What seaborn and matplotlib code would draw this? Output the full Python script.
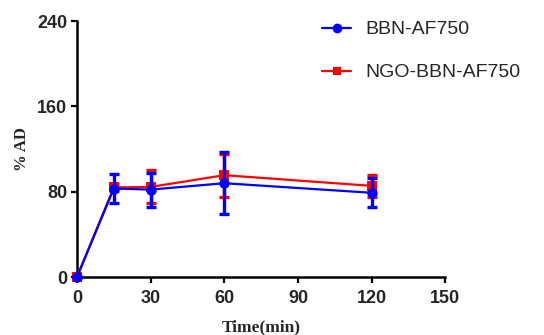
import matplotlib
matplotlib.use("Agg")
import matplotlib.pyplot as plt
import seaborn as sns
import pandas as pd
from matplotlib.lines import Line2D

time_min = [0, 15, 30, 60, 120]
bbn_mean = [0, 83, 82, 88, 79]
bbn_err = [0, 13.5, 16, 29, 13.5]
ngo_mean = [0, 84, 84.5, 95.5, 85.5]
ngo_err = [0, 3, 15.5, 20, 10]
series_names = ["BBN-AF750", "NGO-BBN-AF750"]
yticks = [0, 80, 160, 240]
xticks = [0, 30, 60, 90, 120, 150]

sns.set_style("ticks")
plt.rcParams["font.family"] = ["Liberation Sans", "DejaVu Sans"]

fig = plt.figure(figsize=(5.44, 3.35), dpi=100)
ax = fig.add_axes([0.1415, 0.173, 0.677, 0.764])

df = pd.DataFrame({
    "time": time_min * 2,
    "value": ngo_mean + bbn_mean,
    "series": [series_names[1]] * 5 + [series_names[0]] * 5,
})

# red first, blue on top
ax.errorbar(time_min, ngo_mean, yerr=ngo_err, fmt="none", ecolor="#ff0000",
            elinewidth=2.4, capsize=3.3, capthick=2.4, zorder=2)
sns.lineplot(data=df[df.series == series_names[1]], x="time", y="value",
             color="#ff0000", marker="s", markersize=7, markeredgewidth=0,
             linewidth=1.6, ax=ax, legend=False, zorder=3)
ax.errorbar(time_min, bbn_mean, yerr=bbn_err, fmt="none", ecolor="#0000ff",
            elinewidth=2.4, capsize=3.3, capthick=2.4, zorder=4)
sns.lineplot(data=df[df.series == series_names[0]], x="time", y="value",
             color="#0000ff", marker="o", markersize=7.5, markeredgewidth=0,
             linewidth=1.6, ax=ax, legend=False, zorder=5)

ax.set_xlim(0, 150)
ax.set_ylim(0, 240)
ax.set_xticks(xticks)
ax.set_yticks(yticks)
ax.set_xticklabels([str(t) for t in xticks], fontsize=13, fontweight="bold")
ax.set_yticklabels([str(t) for t in yticks], fontsize=13, fontweight="bold")
ax.tick_params(axis="both", length=4.5, width=1.6, pad=2.5, color="black")
ax.tick_params(axis="x", pad=4.5)
for s in ["top", "right"]:
    ax.spines[s].set_visible(False)
for s in ["left", "bottom"]:
    ax.spines[s].set_linewidth(1.8)
    ax.spines[s].set_color("black")
for child in ax.get_children():
    try:
        child.set_clip_on(False)
    except Exception:
        pass

ax.set_xlabel("Time(min)", fontsize=12.5, fontweight="bold",
              family=["Liberation Serif"], labelpad=9)
ax.set_ylabel("% AD", fontsize=12, fontweight="bold",
              family=["Liberation Serif"], labelpad=5)

handles = [
    Line2D([], [], color="#0000ff", marker="o", markersize=7, linewidth=1.6, markeredgewidth=0),
    Line2D([], [], color="#ff0000", marker="s", markersize=6, linewidth=1.6, markeredgewidth=0),
]
fig.legend(handles, series_names, loc="upper left", bbox_to_anchor=(0.56, 0.99),
           frameon=False, fontsize=14, labelspacing=1.3, handlelength=1.5,
           handletextpad=0.7)

fig.savefig("out.png", dpi=100)
